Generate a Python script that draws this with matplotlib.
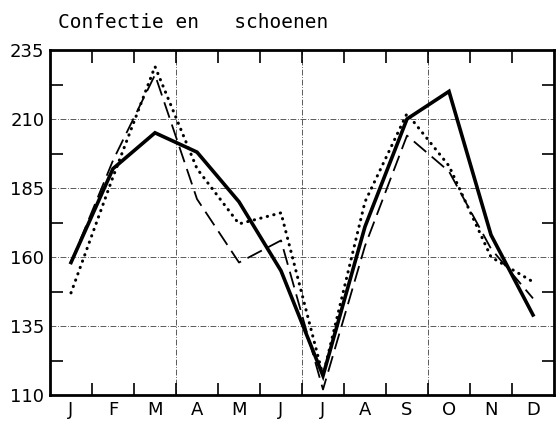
import numpy as np
import matplotlib
matplotlib.use("Agg")
import matplotlib.pyplot as plt

# Data
months = ["J", "F", "M", "A", "M", "J", "J", "A", "S", "O", "N", "D"]
solid = [158, 192, 205, 198, 180, 155, 117, 171, 210, 220, 168, 139]
dashed = [158, 195, 226, 181, 158, 166, 112, 164, 204, 191, 163, 145]
dotted = [147, 189, 229, 192, 172, 176, 117, 180, 212, 193, 160, 151]
yticks = [110, 135, 160, 185, 210, 235]

x = np.arange(len(months))

fig = plt.figure(figsize=(5.59, 4.21), dpi=100)
ax = fig.add_axes([50/559, 1-395/421, 504/559, 345/421])

# Grid: dash-dot lines at inner major values and at quarter boundaries
for yv in yticks[1:-1]:
    ax.axhline(yv, color='0.25', lw=0.6, linestyle=(0, (7, 2, 1, 2)), zorder=1)
for xv in [2.5, 5.5, 8.5]:
    ax.axvline(xv, color='0.25', lw=0.6, linestyle=(0, (7, 2, 1, 2)), zorder=1)

# Series
ax.plot(x, solid, color='black', lw=2.6, solid_joinstyle='miter', zorder=3)
ax.plot(x, dashed, color='black', lw=1.3, linestyle=(0, (9, 4)), zorder=3)
ax.plot(x, dotted, color='black', lw=2.2, linestyle=(0, (0.1, 2.1)),
        dash_capstyle='round', zorder=3)

ax.set_xlim(-0.5, 11.5)
ax.set_ylim(110, 235)

ax.set_xticks(x)
ax.set_xticklabels(months, fontsize=13)
ax.set_yticks(yticks)
ax.set_yticklabels([str(v) for v in yticks], fontsize=13)
ax.tick_params(axis='both', length=0, pad=4)

# Inward tick marks between months (top and bottom) and half steps (left and right)
ax.set_xticks(np.arange(0.5, 11, 1), minor=True)
ax.set_yticks([122.5, 147.5, 172.5, 197.5, 222.5], minor=True)
ax.tick_params(which='minor', direction='in', length=9, width=1.2,
               top=True, bottom=True, left=True, right=True)

for s in ax.spines.values():
    s.set_linewidth(2)

fig.text(58/559, 1-22/421, "Confectie en   schoenen", fontsize=14,
         family='DejaVu Sans Mono', ha='left', va='center')

fig.savefig("out.png", dpi=100)
